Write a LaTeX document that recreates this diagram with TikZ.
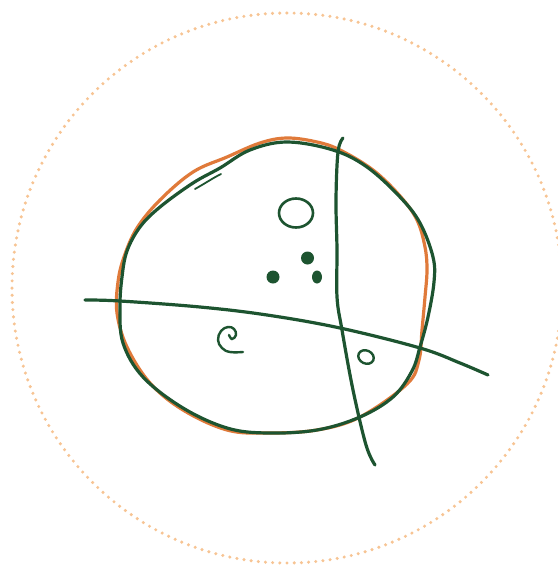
\documentclass[tikz,border=0pt]{standalone}
\usetikzlibrary{calc}
\definecolor{pen}{HTML}{1D5430}
\definecolor{rust}{HTML}{E07A3A}
\definecolor{peach}{HTML}{F7C493}
\tikzset{
  greenpen/.style={draw=pen, line width=3.2pt, line cap=round, line join=round},
  orangepen/.style={draw=rust, line width=3.2pt, line cap=round, line join=round},
  dotring/.style={draw=peach, line width=3.4pt, line cap=round, dash pattern=on 0pt off 7.2pt},
  dotfill/.style={fill=pen, draw=none}
}
\begin{document}
\begin{tikzpicture}[x=1pt,y=-1pt]
\useasboundingbox (0,0) rectangle (557,565);
\fill[white] (0,0) rectangle (557,565);
% dotted outer ring
\draw[dotring] (287,288) circle[radius=275];
% orange blob
\draw[orangepen] plot[smooth cycle, tension=0.6] coordinates {
 (287,138) (317,142) (340,150) (373,170) (400,196) (417,220) (425,247) (427,270)
 (425,297) (422,330) (419,360) (407,384) (360,417) (317,430) (267,433) (227,430)
 (183,410) (150,383) (127,347) (117,313) (118,282) (124,257) (137,228) (160,200)
 (193,172) (227,157) (260,143)};
% green blob
\draw[greenpen] plot[smooth cycle, tension=0.6] coordinates {
 (287,142) (333,150) (367,167) (400,197) (420,223) (433,257)
 (434,282) (428,317) (420,347) (412,371) (393,397) (360,417) (317,430) (267,433)
 (227,428) (183,408) (143,377) (123,343) (120,307) (122,277) (127,251) (140,227)
 (160,207) (193,183) (220,168) (250,150)};
% little tick
\draw[pen, line width=1.8pt, line cap=round] (195,189) .. controls (204,184) and (213,178) .. (221,174);
% vertical stroke
\coordinate (vtop) at (343,138);
\coordinate (vbot) at (375,465);
\draw[greenpen] plot[smooth, tension=0.6] coordinates {
 (vtop) (338,152) (336,200) (337,250) (337,297) (342,330) (353,390) (366,445) (vbot)};
% horizontal stroke
\coordinate (hl) at (85,300);
\coordinate (hr) at (488,375);
\draw[greenpen] plot[smooth, tension=0.6] coordinates {
 (hl) (120,301) (200,307) (267,315) (340,328) (420,348) (460,363) (hr)};
% small open circle
\draw[pen, line width=2.6pt] (296,213) ellipse[x radius=17, y radius=14.5];
% dots
\fill[dotfill] (307.5,258) circle[radius=6.5];
\fill[dotfill] (273,277) circle[radius=6.5];
\fill[dotfill] (317,277) ellipse[x radius=5, y radius=6.5];
% spiral
\draw[pen, line width=2.4pt, line cap=round] plot[smooth, tension=0.7] coordinates {
 (229,335) (232,339) (236,335) (234,329) (228,327) (221,331) (218,340) (222,348)
 (230,352) (243,352)};
% small o
\draw[pen, line width=2.4pt, rotate around={-25:(366,357)}] (366,357) ellipse[x radius=8, y radius=6.5];
\end{tikzpicture}
\end{document}
